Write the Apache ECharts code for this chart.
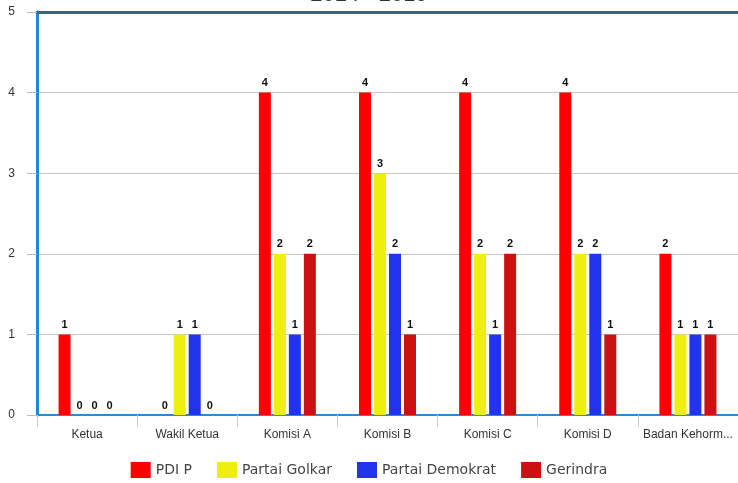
<!DOCTYPE html>
<html><head><meta charset="utf-8">
<script src="https://cdn.jsdelivr.net/npm/echarts@6/dist/echarts.min.js"></script>
<style>html,body{margin:0;padding:0;background:#fff}#c{width:738px;height:483px}</style>
</head><body><div id="c"></div>
<script>
const titleText = '2014 - 2019';
const categories = ['Ketua', 'Wakil Ketua', 'Komisi A', 'Komisi B', 'Komisi C', 'Komisi D', 'Badan Kehormatan'];
const seriesNames = ['PDI P', 'Partai Golkar', 'Partai Demokrat', 'Gerindra'];
const pdip = [1, 0, 4, 4, 4, 4, 2];
const golkar = [0, 1, 2, 3, 2, 2, 1];
const demokrat = [0, 1, 1, 2, 1, 2, 1];
const gerindra = [0, 0, 2, 1, 2, 1, 1];
const colors = ['#ff0000', '#eeee10', '#2233ee', '#cc1111'];
const values = [pdip, golkar, demokrat, gerindra];

const chart = echarts.init(document.getElementById('c'));
chart.setOption({
  animation: false,
  backgroundColor: '#fff',
  title: { text: titleText, left: 'center', top: -21, textStyle: { fontSize: 22, color: '#333', fontWeight: 'normal', fontFamily: 'Liberation Sans' } },
  grid: { left: 37, right: -3, top: 12, bottom: 68 },
  legend: {
    bottom: 0, left: 'center', itemWidth: 20, itemHeight: 16, itemGap: 25,
    textStyle: { fontSize: 14, color: '#444', fontFamily: 'DejaVu Sans' },
    icon: 'rect',
    data: seriesNames
  },
  xAxis: [{
    type: 'category', data: categories,
    axisLine: { lineStyle: { color: '#2a8ad8', width: 2 } },
    axisTick: { show: true, length: 12, lineStyle: { color: '#ccc' } },
    axisLabel: { interval: 0, fontSize: 12, color: '#333', margin: 14, fontFamily: 'Liberation Sans', overflow: 'truncate', width: 94, ellipsis: '...' }
  }, {
    type: 'category', data: categories, position: 'top',
    axisLine: { lineStyle: { color: '#2a6a90', width: 3 } },
    axisTick: { show: false }, axisLabel: { show: false }
  }],
  yAxis: {
    type: 'value', min: 0, max: 5, interval: 1,
    axisLine: { show: true, lineStyle: { color: '#1e88d8', width: 3 } },
    axisTick: { show: true, length: 10, lineStyle: { color: '#bbb' } },
    axisLabel: { fontSize: 12, color: '#333', margin: 22, fontFamily: 'Liberation Sans' },
    splitLine: { lineStyle: { color: '#c8c8c8' } }
  },
  series: seriesNames.map((n, i) => ({
    name: n, type: 'bar', data: values[i],
    barWidth: 12, barGap: '25%',
    itemStyle: { color: colors[i] },
    label: { show: true, position: 'top', distance: 4, fontSize: 11, fontWeight: 'bold', color: '#111', fontFamily: 'Liberation Sans' }
  }))
});
</script></body></html>
